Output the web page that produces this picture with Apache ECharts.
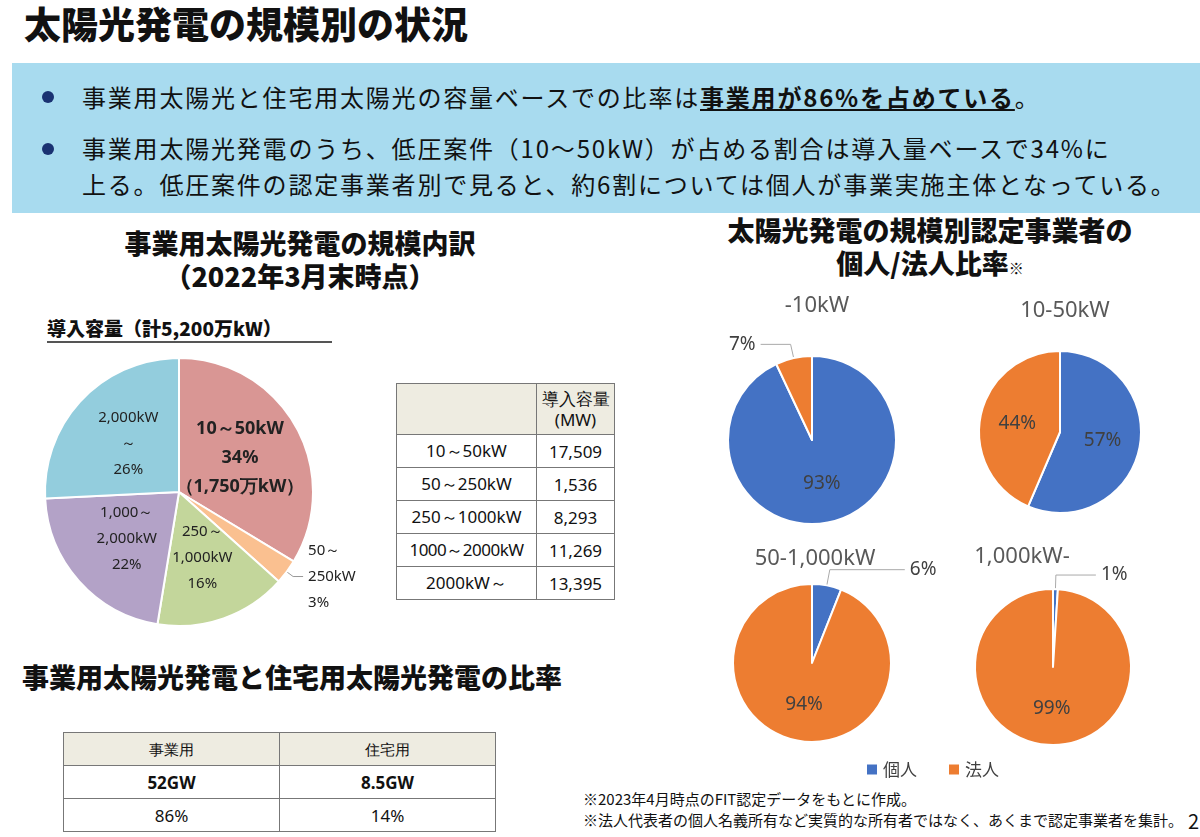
<!doctype html>
<html>
<head>
<meta charset="utf-8">
<title>太陽光発電の規模別の状況</title>
<script src="https://cdn.jsdelivr.net/npm/echarts@6/dist/echarts.min.js"></script>
<style>
  body { margin: 0; width: 1200px; height: 837px; background: #fff; font-family: "Noto Sans CJK JP", sans-serif; color: #111; overflow: hidden; position: relative; }
  #main { position: absolute; left: 0; top: 0; width: 1200px; height: 837px; }
  .abs { position: absolute; }
  h1 { position: absolute; left: 24px; top: -4px; margin: 0; font-size: 37px; font-weight: 900; }
  .banner { left: 12px; top: 63px; width: 1188px; height: 150px; background: #a8dbef; }
  .banner p { position: absolute; margin: 0; font-size: 24px; line-height: 36px; white-space: nowrap; letter-spacing: 1.8px; }
  .banner .dot { position: absolute; width: 12px; height: 12px; border-radius: 6px; background: #1a3272; }
  .h2 { font-size: 27px; font-weight: 900; text-align: center; line-height: 33px; white-space: nowrap; }
  table { border-collapse: collapse; font-family: "Noto Sans", sans-serif; }
  td { border: 1px solid #777; text-align: center; }
  .t1 td { font-size: 17px; height: 32px; padding: 0 2px; }
  .t2 td { font-size: 17px; height: 30px; }
  .note { font-size: 15px; line-height: 21px; white-space: nowrap; }
</style>
</head>
<body>
<h1>太陽光発電の規模別の状況</h1>
<div class="abs banner">
  <div class="dot" style="left:30px;top:28px"></div>
  <p style="left:70px;top:16px">事業用太陽光と住宅用太陽光の容量ベースでの比率は<b style="text-decoration:underline">事業用が86%を占めている</b>。</p>
  <div class="dot" style="left:30px;top:80px"></div>
  <p style="left:70px;top:67px">事業用太陽光発電のうち、低圧案件（10～50kW）が占める割合は導入量ベースで34%に<br>上る。低圧案件の認定事業者別で見ると、約6割については個人が事業実施主体となっている。</p>
</div>
<div class="abs h2" style="left:80px;top:226px;width:440px">事業用太陽光発電の規模内訳<br>（2022年3月末時点）</div>
<div class="abs" style="left:47px;top:314px;font-size:19px;font-weight:900;border-bottom:2px solid #555;width:285px">導入容量（計5,200万kW）</div>
<div class="abs h2" style="left:690px;top:213px;width:480px">太陽光発電の規模別認定事業者の<br>個人/法人比率<span style="font-size:15px;font-weight:400">※</span></div>
<div class="abs h2" style="left:22px;top:660px;text-align:left">事業用太陽光発電と住宅用太陽光発電の比率</div>

<table class="abs t1" style="left:396px;top:383px;width:219px">
  <tr><td style="background:#eeece1;height:50px;width:135px"></td><td style="background:#eeece1;line-height:21px">導入容量<br>(MW)</td></tr>
  <tr><td>10～50kW</td><td>17,509</td></tr>
  <tr><td>50～250kW</td><td>1,536</td></tr>
  <tr><td>250～1000kW</td><td>8,293</td></tr>
  <tr><td style="padding:0;letter-spacing:-0.5px">1000～2000kW</td><td>11,269</td></tr>
  <tr><td>2000kW～</td><td>13,395</td></tr>
</table>

<table class="abs t2" style="left:63px;top:732px;width:433px">
  <tr><td style="background:#eeece1;width:50%;font-size:15px">事業用</td><td style="background:#eeece1;font-size:15px">住宅用</td></tr>
  <tr><td style="font-weight:bold">52GW</td><td style="font-weight:bold">8.5GW</td></tr>
  <tr><td>86%</td><td>14%</td></tr>
</table>

<div class="abs note" style="left:583px;top:788px">※2023年4月時点のFIT認定データをもとに作成。<br>※法人代表者の個人名義所有など実質的な所有者ではなく、あくまで認定事業者を集計。</div>
<div class="abs" style="left:1188px;top:806px;font-size:20px">2</div>

<div id="main"></div>
<script>
  var chart = echarts.init(document.getElementById('main'));

  var capacity = [
    { name: '10～50kW', value: 17509, color: '#d99694', text: '{b|10～50kW}\n\n{b|34%}\n\n{b|（1,750万kW）}' },
    { name: '50～250kW', value: 1536, color: '#fac090', text: '50～\n\n250kW\n\n3%', outside: true },
    { name: '250～1000kW', value: 8293, color: '#c3d69b', text: '250～\n\n1,000kW\n\n16%' },
    { name: '1000～2000kW', value: 11269, color: '#b3a2c7', text: '1,000～\n\n2,000kW\n\n22%' },
    { name: '2000kW～', value: 13395, color: '#93cddd', text: '2,000kW\n\n～\n\n26%' }
  ];

  // 個人 / 法人 比率 (%)
  var owners = [
    { title: '-10kW', center: [812, 440], r: 84, data: [93, 7], tx: 812, ty: 290, line: [14, 30] },
    { title: '10-50kW', center: [1060, 432], r: 81, data: [57, 44], tx: 1060, ty: 295, line: [14, 30] },
    { title: '50-1,000kW', center: [812, 663], r: 79, data: [6, 94], tx: 810, ty: 543, line: [16, 75] },
    { title: '1,000kW-', center: [1053, 667], r: 78, data: [1, 99], tx: 1017, ty: 541, line: [14, 40] }
  ];

  var series = [{
    type: 'pie',
    center: [179, 492],
    radius: 134,
    startAngle: 90,
    silent: true,
    itemStyle: { borderColor: '#fff', borderWidth: 2 },
    labelLine: { length: 8, length2: 10, lineStyle: { color: '#999' } },
    data: capacity.map(function (d) {
      return {
        name: d.name, value: d.value,
        itemStyle: { color: d.color },
        label: {
          show: true,
          position: d.outside ? 'outside' : 'inside',
          formatter: d.text,
          fontFamily: 'Noto Sans', fontSize: 15, color: '#222', lineHeight: 13,
          rich: { b: { fontWeight: 'bold', fontSize: 18, lineHeight: 16 } }
        },
        labelLine: { show: !!d.outside }
      };
    })
  }];

  var titles = [];
  owners.forEach(function (o) {
    series.push({
      type: 'pie',
      center: o.center,
      radius: o.r,
      startAngle: 90,
      silent: true,
      itemStyle: { borderColor: '#fff', borderWidth: 2 },
      labelLine: { length: o.line[0], length2: o.line[1], lineStyle: { color: '#aaa' } },
      data: ['個人', '法人'].map(function (n, i) {
        var small = o.data[i] < 10;
        return {
          name: n, value: o.data[i],
          label: {
            show: true,
            position: small ? 'outside' : 'inside',
            formatter: '{c}%',
            fontFamily: 'Noto Sans', fontSize: 19, color: '#404040'
          },
          labelLine: { show: small }
        };
      })
    });
    titles.push({
      text: o.title, left: o.tx, top: o.ty, textAlign: 'center',
      textStyle: { fontFamily: 'Noto Sans', fontSize: 22, fontWeight: 'normal', color: '#595959' }
    });
  });

  chart.setOption({
    color: ['#4472c4', '#ed7d31'],
    title: titles,
    legend: {
      data: ['個人', '法人'], left: 860, top: 756, itemWidth: 12, itemHeight: 12, itemGap: 30,
      icon: 'rect', textStyle: { fontSize: 17, color: '#404040', fontFamily: 'Noto Sans CJK JP' }
    },
    series: series
  });
</script>
</body>
</html>
